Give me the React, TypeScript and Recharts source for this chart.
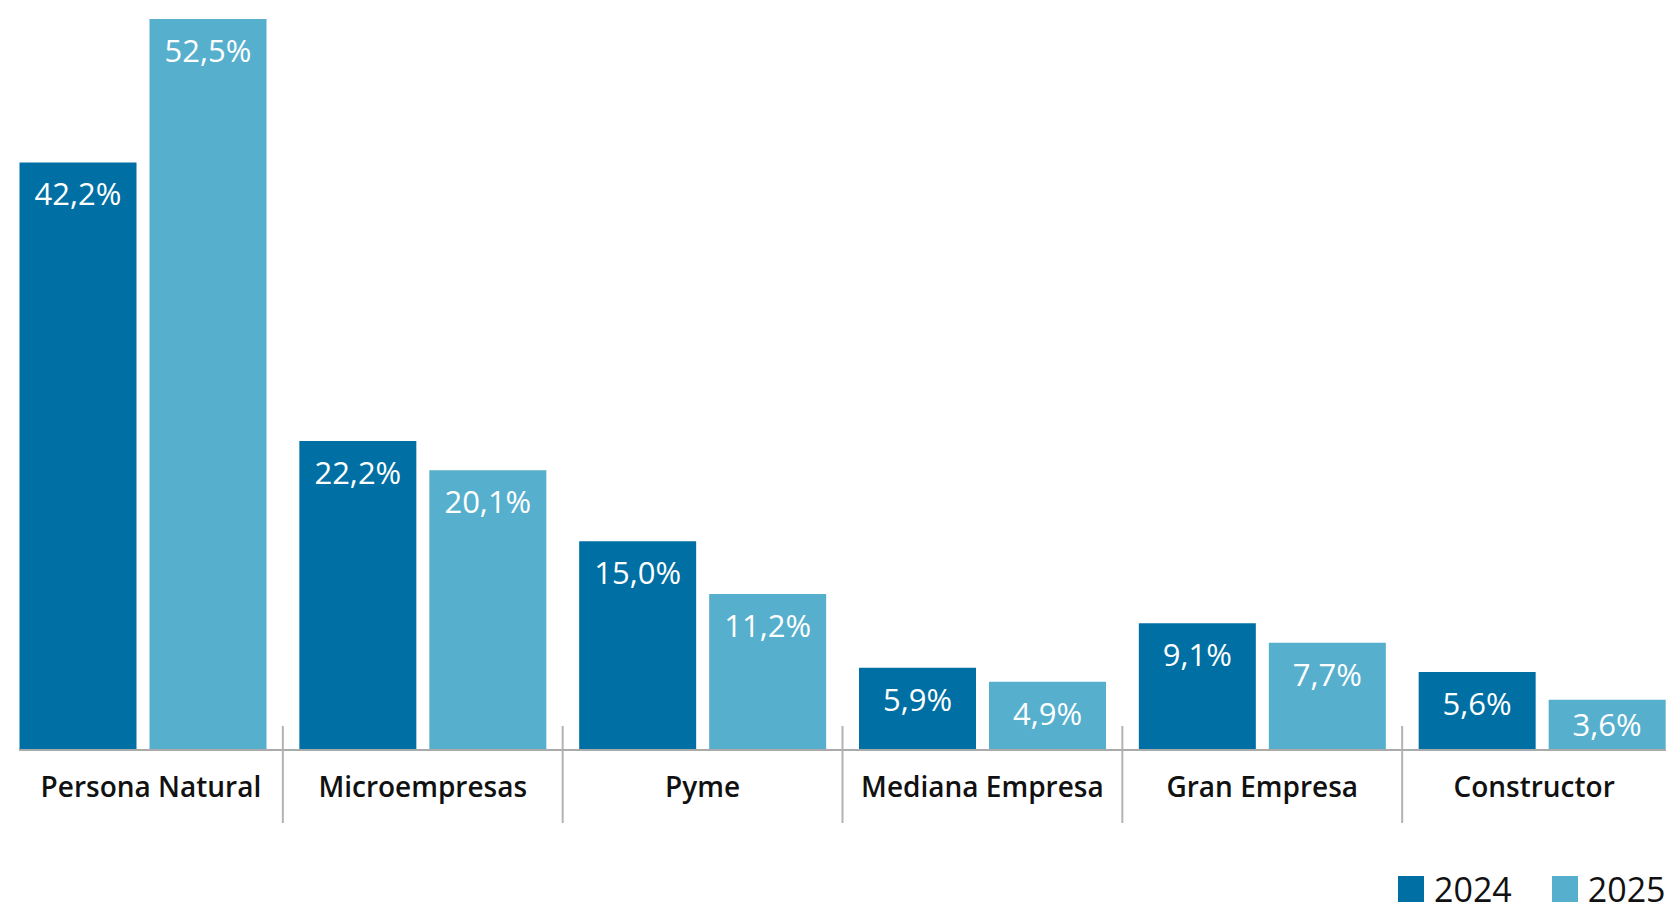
import { Bar, BarChart, XAxis, YAxis, LabelList, Legend } from "recharts"

const categories = ["Persona Natural", "Microempresas", "Pyme", "Mediana Empresa", "Gran Empresa", "Constructor"]
const values2024 = [42.2, 22.2, 15.0, 5.9, 9.1, 5.6]
const values2025 = [52.5, 20.1, 11.2, 4.9, 7.7, 3.6]
const seriesNames = ["2024", "2025"]
const colors = ["#006fa3", "#56afcd"]

const data = categories.map((name, i) => ({
  name,
  y2024: values2024[i],
  y2025: values2025[i],
}))

const FONT = "'Open Sans', 'Noto Sans', sans-serif"
// visible part of the axis (the chart is wider than the picture and clipped)
const AXIS_START = 19
const VIEW_END = 1666

const fmt = (v: number) => v.toFixed(1).replace(".", ",") + "%"

function ValueLabel(props: any) {
  const { x, y, width, height, value } = props
  const cy = Math.min(y + 32, y + height / 2)
  return (
    <text x={x + width / 2} y={cy + 11} textAnchor="middle" fill="#ffffff" fontSize={31} fontFamily={FONT}>
      {fmt(value)}
    </text>
  )
}

function CategoryTick(props: any) {
  const { x, y, payload } = props
  const half = payload.offset ?? 0
  const left = Math.max(x - half, AXIS_START)
  const right = Math.min(x + half, VIEW_END)
  const cx = (left + right) / 2
  return (
    <g>
      <line x1={left} x2={x + half} y1={y} y2={y} stroke="#aaaaaa" strokeWidth={2} />
      <line x1={x + half} x2={x + half} y1={y - 24} y2={y + 73} stroke="#b3b3b3" strokeWidth={2} />
      <text x={cx} y={y + 47} textAnchor="middle" fill="#111111" fontSize={28} fontWeight={600} fontFamily={FONT}>
        {payload.value}
      </text>
    </g>
  )
}

function LegendContent() {
  return (
    <div style={{ display: "flex", alignItems: "center", fontFamily: FONT, whiteSpace: "nowrap" }}>
      {seriesNames.map((s, i) => (
        <div key={s} style={{ display: "flex", alignItems: "center", marginRight: i === 0 ? 40 : 0 }}>
          <div style={{ width: 26, height: 26, background: colors[i], marginRight: 10 }} />
          <span style={{ fontSize: 34, color: "#111111", lineHeight: "34px" }}>{s}</span>
        </div>
      ))}
    </div>
  )
}

export default function App() {
  return (
    <div style={{ position: "absolute", left: 0, top: 0, width: 1666, height: 906, overflow: "hidden", background: "#fff" }}>
      <BarChart
        width={1700}
        height={906}
        data={data}
        margin={{ top: 19, right: 18, bottom: 0, left: 3 }}
        barCategoryGap={16.5}
        barGap={13}
      >
        <XAxis
          dataKey="name"
          height={156}
          tickSize={0}
          tickMargin={0}
          tickLine={false}
          axisLine={false}
          tick={<CategoryTick />}
          interval={0}
        />
        <YAxis hide domain={[0, "dataMax"]} />
        <Legend
          layout="vertical"
          align="center"
          verticalAlign="middle"
          content={<LegendContent />}
          wrapperStyle={{ left: 1398, top: 872, width: "auto", height: "auto" }}
        />
        <Bar dataKey="y2024" name="2024" fill={colors[0]} isAnimationActive={false}>
          <LabelList dataKey="y2024" content={<ValueLabel />} />
        </Bar>
        <Bar dataKey="y2025" name="2025" fill={colors[1]} isAnimationActive={false}>
          <LabelList dataKey="y2025" content={<ValueLabel />} />
        </Bar>
      </BarChart>
    </div>
  )
}
